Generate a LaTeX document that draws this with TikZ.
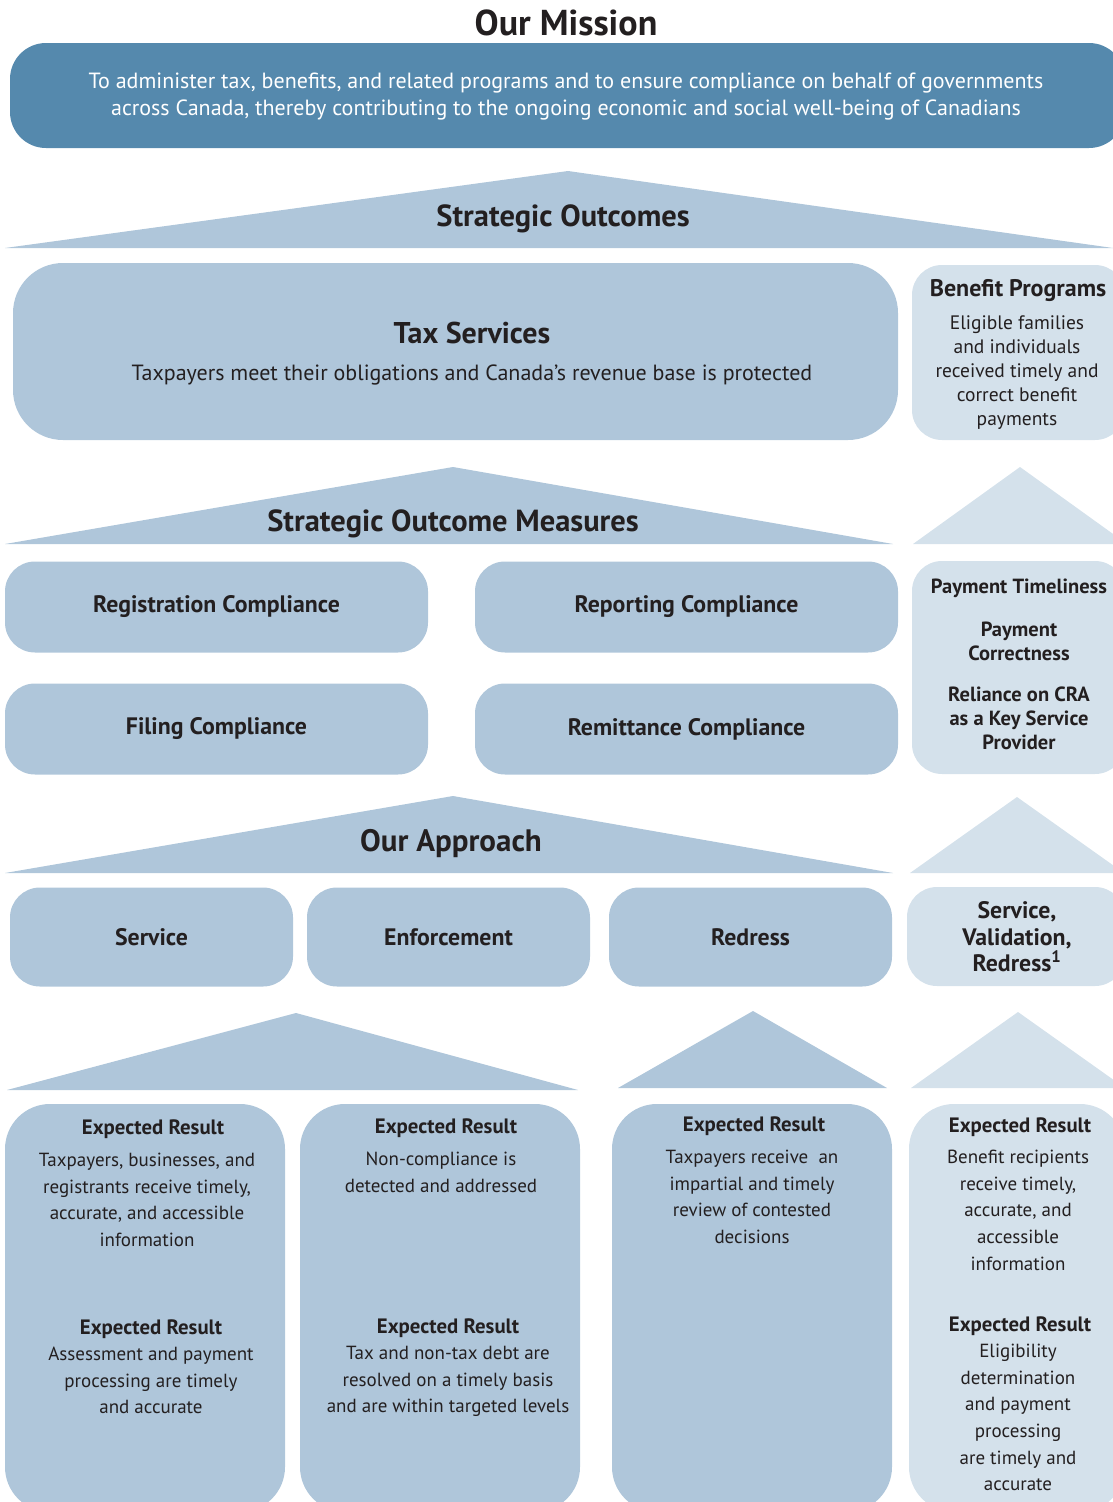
\documentclass[tikz,border=0pt]{standalone}
\usepackage{fontspec}
\setmainfont{PT Sans}
\definecolor{missionblue}{HTML}{5589AD}
\definecolor{midblue}{HTML}{AFC6DA}
\definecolor{paleblue}{HTML}{D4E1EB}
\definecolor{ink}{HTML}{231F20}

\begin{document}
\begin{tikzpicture}[x=1pt,y=-1pt,
  every node/.style={text=ink, inner sep=0pt},
  midbox/.style={fill=midblue, rounded corners=30pt},
  palebox/.style={fill=paleblue, rounded corners=30pt},
  roof/.style={fill=midblue},
  paleroof/.style={fill=paleblue},
  headtxt/.style={font=\bfseries\fontsize{30.5}{34}\selectfont},
  labtxt/.style={font=\bfseries\fontsize{23.8}{27}\selectfont, align=center},
  smalllab/.style={font=\bfseries\fontsize{20.5}{24}\selectfont, align=center},
  bodytxt/.style={font=\fontsize{19}{26.6}\selectfont, align=center},
  erhead/.style={font=\bfseries\fontsize{20.8}{24}\selectfont},
]
\useasboundingbox (0,0) rectangle (1113,1502);
\clip (0,0) rectangle (1113,1502);

% ---------- mission ----------
\node[font=\bfseries\fontsize{36}{40}\selectfont] (missiontitle) at (566,23) {Our Mission};
\node[fill=missionblue, rounded corners=36pt, minimum width=1115pt, minimum height=105pt] (mission) at (567.5,95.5) {};
\node[text=white, font=\fontsize{22}{27}\selectfont, align=center] (missiontext) at (566,97)
  {To administer tax, benefits, and related programs and to ensure compliance on behalf of governments\\
   across Canada, thereby contributing to the ongoing economic and social well-being of Canadians};

% ---------- strategic outcomes ----------
\fill[roof] (5,248) -- (568,171) -- (1113,248) -- cycle;
\node[headtxt] (sotitle) at (563,219) {Strategic Outcomes};

\node[midbox, rounded corners=50pt, minimum width=885pt, minimum height=177pt] (tax) at (455.5,351.5) {};
\node[font=\bfseries\fontsize{30}{34}\selectfont] (taxtitle) at (472,333) {Tax Services};
\node[font=\fontsize{22}{26}\selectfont] (taxtext) at (472,375) {Taxpayers meet their obligations and Canada’s revenue base is protected};

\node[palebox, minimum width=213pt, minimum height=175pt] (benefit) at (1018.5,352.5) {};
\node[font=\bfseries\fontsize{24}{27}\selectfont] (bentitle) at (1018,291) {Benefit Programs};
\node[bodytxt, font=\fontsize{19.5}{24}\selectfont, anchor=north] (bentext) at (1017,315)
  {Eligible families\\and individuals\\received timely and\\correct benefit\\payments};

% ---------- strategic outcome measures ----------
\fill[roof] (5,544) -- (453,467) -- (893,544) -- cycle;
\node[headtxt] (somtitle) at (453,524) {Strategic Outcome Measures};
\fill[paleroof] (913,544) -- (1020,467) -- (1127,544) -- cycle;

\node[midbox, minimum width=423pt, minimum height=91pt, labtxt] (reg) at (216.5,607) {Registration Compliance};
\node[midbox, minimum width=423pt, minimum height=91pt, labtxt] (rep) at (686.5,607) {Reporting Compliance};
\node[midbox, minimum width=423pt, minimum height=91pt, labtxt] (fil) at (216.5,729) {Filing Compliance};
\node[midbox, minimum width=423pt, minimum height=91pt, labtxt] (rem) at (686.5,729) {Remittance Compliance};

\node[palebox, minimum width=213pt, minimum height=213pt] (benmeas) at (1018.5,667.5) {};
\node[smalllab] (pt) at (1019,588) {Payment Timeliness};
\node[smalllab] (pc) at (1019,641) {Payment\\Correctness};
\node[smalllab] (rel) at (1019,718) {Reliance on CRA\\as a Key Service\\Provider};

% ---------- our approach ----------
\fill[roof] (5,873) -- (453,796) -- (893,873) -- cycle;
\node[font=\bfseries\fontsize{31}{34}\selectfont] (apptitle) at (451,844) {Our Approach};
\fill[paleroof] (910,873) -- (1017,797) -- (1124,873) -- cycle;

\node[midbox, minimum width=283pt, minimum height=99pt, labtxt] (service) at (151.5,937) {Service};
\node[midbox, minimum width=283pt, minimum height=99pt, labtxt] (enforce) at (448.5,937) {Enforcement};
\node[midbox, minimum width=283pt, minimum height=99pt, labtxt] (redress) at (750.5,937) {Redress};
\node[palebox, minimum width=218pt, minimum height=99pt] (svr) at (1016,936.5) {};
\node[labtxt, font=\bfseries\fontsize{23.8}{26.5}\selectfont] (svrtext) at (1017,937)
  {Service,\\Validation,\\Redress\textsuperscript{1}};

% ---------- expected results ----------
\fill[roof] (7,1090) -- (296,1013) -- (578,1090) -- cycle;
\fill[roof] (618,1088) -- (753,1011) -- (887,1088) -- cycle;
\fill[paleroof] (911,1088) -- (1018,1012) -- (1125,1088) -- cycle;

\node[midbox, rounded corners=45pt, minimum width=280pt, minimum height=408pt] (colA) at (145,1308) {};
\node[midbox, rounded corners=45pt, minimum width=280pt, minimum height=408pt] (colB) at (440,1308) {};
\node[midbox, rounded corners=45pt, minimum width=280pt, minimum height=408pt] (colC) at (752,1308) {};
\node[palebox, rounded corners=45pt, minimum width=216pt, minimum height=408pt] (colD) at (1017,1308) {};

% column A
\node[erhead] (a1h) at (153,1129) {Expected Result};
\node[bodytxt, anchor=north] (a1t) at (147,1153)
  {Taxpayers, businesses, and\\registrants receive timely,\\accurate, and accessible\\information};
\node[erhead] (a2h) at (151,1329) {Expected Result};
\node[bodytxt, anchor=north] (a2t) at (151,1347)
  {Assessment and payment\\processing are timely\\and accurate};

% column B
\node[erhead] (b1h) at (446,1128) {Expected Result};
\node[bodytxt, anchor=north] (b1t) at (441,1152)
  {Non-compliance is\\detected and addressed};
\node[erhead] (b2h) at (448,1328) {Expected Result};
\node[bodytxt, anchor=north] (b2t) at (448,1346)
  {Tax and non-tax debt are\\resolved on a timely basis\\and are within targeted levels};

% column C
\node[erhead] (c1h) at (754,1126) {Expected Result};
\node[bodytxt, anchor=north] (c1t) at (752,1150)
  {Taxpayers receive\ \ an\\impartial and timely\\review of contested\\decisions};

% column D
\node[erhead] (d1h) at (1020,1127) {Expected Result};
\node[bodytxt, anchor=north] (d1t) at (1018,1150)
  {Benefit recipients\\receive timely,\\accurate, and\\accessible\\information};
\node[erhead] (d2h) at (1020,1326) {Expected Result};
\node[bodytxt, anchor=north] (d2t) at (1018,1344)
  {Eligibility\\determination\\and payment\\processing\\are timely and\\accurate};
\end{tikzpicture}
\end{document}
